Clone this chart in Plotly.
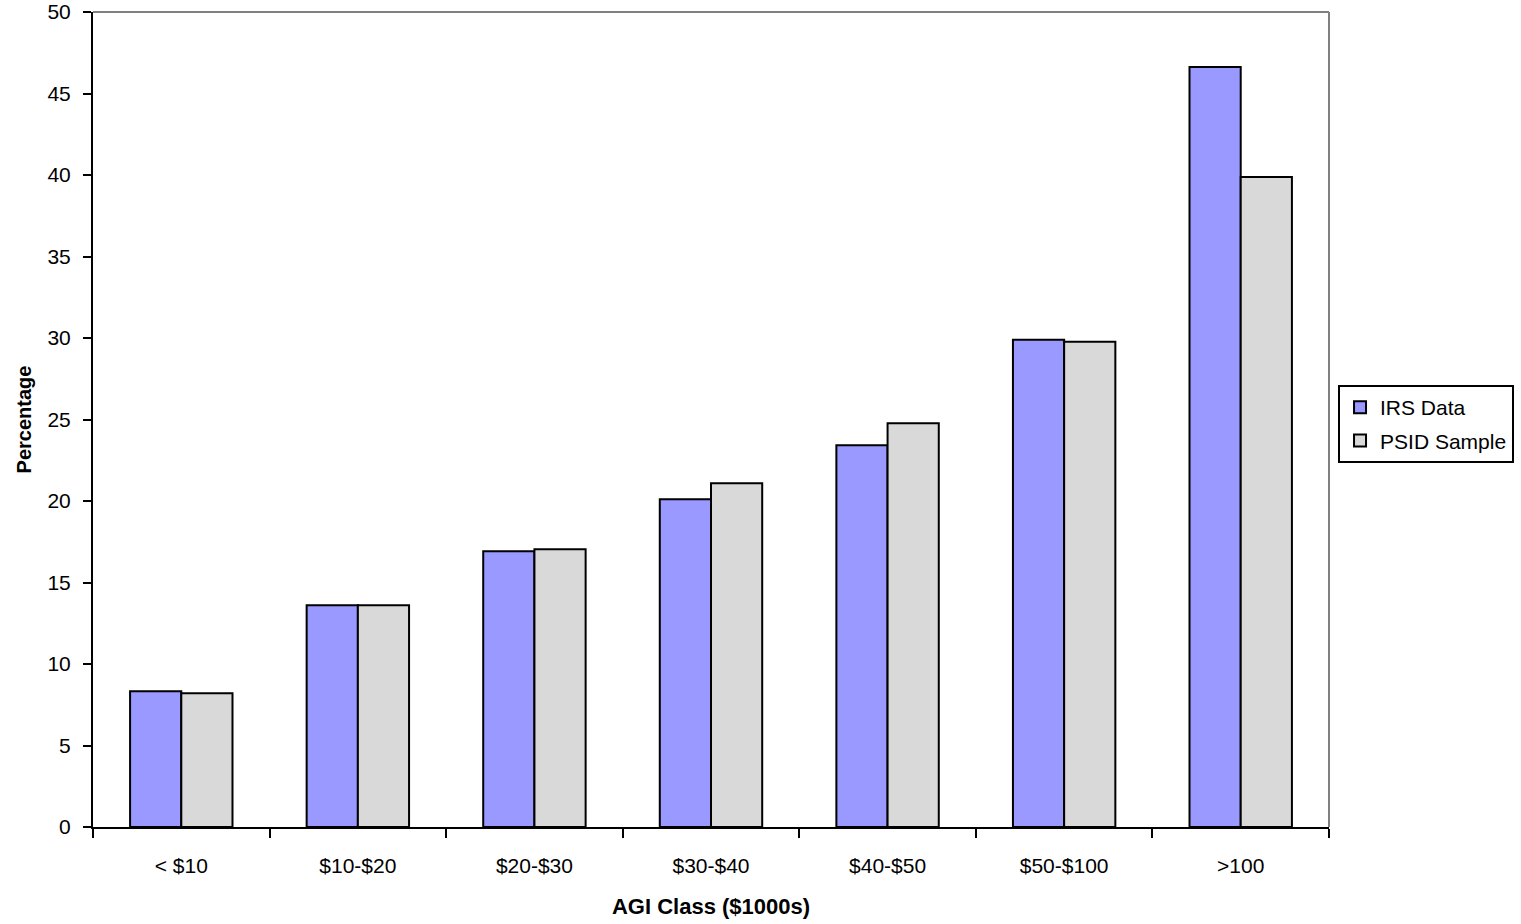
import plotly.graph_objects as go

categories = ["< $10", "$10-$20", "$20-$30", "$30-$40", "$40-$50", "$50-$100", ">100"]
irs_data = [8.33, 13.6, 16.91, 20.1, 23.42, 29.9, 46.63]
psid_sample = [8.2, 13.6, 17.04, 21.09, 24.77, 29.77, 39.88]

fig = go.Figure()
fig.add_trace(go.Bar(x=categories, y=irs_data, name="IRS Data", legendgroup="a",
                     marker=dict(color="#9999FF", line=dict(color="black", width=2))))
fig.add_trace(go.Bar(x=categories, y=psid_sample, name="PSID Sample", legendgroup="b",
                     marker=dict(color="#D9D9D9", line=dict(color="black", width=2))))

fig.update_layout(
    width=1521, height=924,
    margin=dict(l=93, r=192, t=12, b=97, autoexpand=False),
    paper_bgcolor="white", plot_bgcolor="white",
    barmode="group", bargap=0.42, bargroupgap=0,
    font=dict(family="Liberation Sans, Arial", size=21, color="black"),
    showlegend=True,
    legend=dict(x=1.1497, y=0.5423, xanchor="right", yanchor="top",
                bordercolor="black", borderwidth=2, bgcolor="white",
                font=dict(size=21), itemwidth=30, tracegroupgap=3,
                traceorder="grouped"),
    xaxis=dict(showline=True, linecolor="black", linewidth=2, automargin=False,
               ticks="outside", tickson="boundaries", ticklen=9, tickwidth=2, tickcolor="black",
               ticklabelstandoff=19, showgrid=False, zeroline=False,
               title=dict(text="<b>AGI Class ($1000s)</b>", font=dict(size=22), standoff=22)),
    yaxis=dict(range=[0, 50], dtick=5, showline=True, linecolor="black", linewidth=2,
               automargin=False, ticklabeloverflow="allow",
               ticks="outside", ticklen=8, tickwidth=2, tickcolor="black",
               ticklabelstandoff=8, showgrid=False, zeroline=False,
               title=dict(text="<b>Percentage</b>", font=dict(size=20), standoff=10)),
    shapes=[
        dict(type="line", xref="paper", yref="paper", x0=0, x1=1, y0=1, y1=1,
             line=dict(color="#808080", width=2)),
        dict(type="line", xref="paper", yref="paper", x0=1, x1=1, y0=0, y1=1,
             line=dict(color="#808080", width=2)),
    ],
)

fig.write_html("out.html", config={"displayModeBar": False},
               post_script="document.body.style.margin='0px';document.body.style.overflow='hidden';")
